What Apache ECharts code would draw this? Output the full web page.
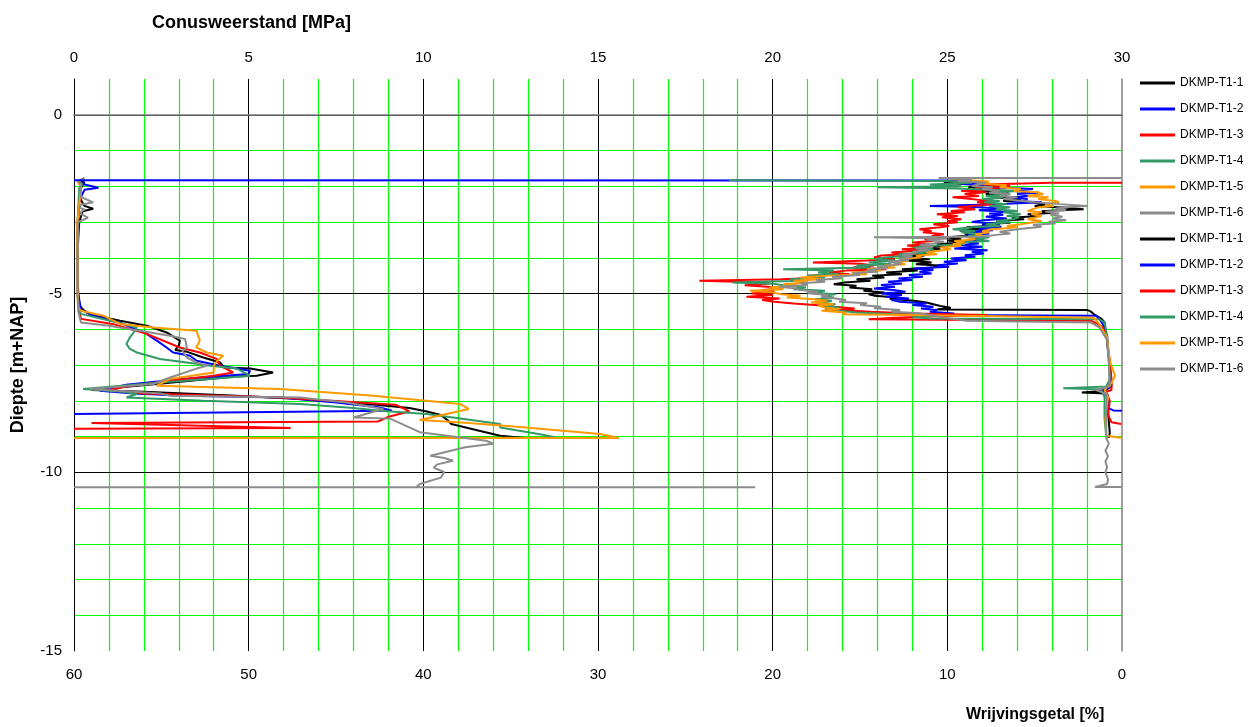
<!DOCTYPE html>
<html>
<head>
<meta charset="utf-8">
<script src="https://cdn.jsdelivr.net/npm/echarts@6/dist/echarts.min.js"></script>
<style>
html,body{margin:0;padding:0;background:#fff;}
#chart{width:1249px;height:727px;}
</style>
</head>
<body>
<div id="chart"></div>
<script>
// ---------- Data ----------
const seriesNames = ['DKMP-T1-1','DKMP-T1-2','DKMP-T1-3','DKMP-T1-4','DKMP-T1-5','DKMP-T1-6'];
const seriesColors = ['#000000','#0000FF','#FF0000','#339966','#FF9900','#8C8C8C'];

const qcTopTicks = [0,5,10,15,20,25,30];      // Conusweerstand [MPa]
const rfBottomTicks = [60,50,40,30,20,10,0];  // Wrijvingsgetal [%]
const depthTicks = [0,-5,-10,-15];            // Diepte [m+NAP]

// Cone resistance: [depth, qc MPa]
const qc1 = [[-1.82,0.15],[-1.9,0.3],[-2.05,0.2],[-2.3,0.15],[-2.55,0.3],[-2.63,0.55],[-2.7,0.25],[-3.0,0.15],[-3.5,0.12],[-4.0,0.1],[-4.5,0.1],[-5.0,0.12],[-5.3,0.15],[-5.39,0.2],[-5.48,0.3],[-5.59,0.46],[-5.76,1.32],[-5.9,2.08],[-6.09,2.65],[-6.32,3.03],[-6.46,3.0],[-6.58,2.9],[-6.62,3.2],[-6.79,3.7],[-6.93,4.18],[-7.07,4.3],[-7.1,5.04],[-7.21,5.7],[-7.3,5.23],[-7.32,4.6],[-7.53,2.37],[-7.7,0.5],[-7.75,2.0],[-7.85,4.5],[-7.95,6.5],[-8.1,8.5],[-8.2,9.6],[-8.3,10.1],[-8.4,10.5],[-8.55,10.7],[-8.65,10.8],[-8.84,11.6],[-8.98,12.2],[-9.04,12.9],[-9.04,0]];
const qc2 = [[-1.84,0.1],[-1.95,0.3],[-2.04,0.7],[-2.1,0.3],[-2.4,0.15],[-3.0,0.12],[-4.0,0.1],[-5.0,0.12],[-5.45,0.2],[-5.6,0.5],[-5.81,1.3],[-6.13,2.08],[-6.32,2.37],[-6.51,2.65],[-6.65,2.84],[-6.74,3.32],[-6.88,3.51],[-7.02,4.18],[-7.16,5.04],[-7.25,5.0],[-7.4,3.0],[-7.55,1.5],[-7.72,0.74],[-7.8,1.7],[-7.86,3.2],[-7.91,5.9],[-8.05,7.5],[-8.19,8.76],[-8.28,9.1],[-8.37,0]];
const qc3 = [[-1.86,0.1],[-2.0,0.2],[-2.5,0.15],[-3.0,0.1],[-4.0,0.1],[-5.0,0.1],[-5.5,0.15],[-5.71,0.2],[-5.85,1.1],[-6.13,2.08],[-6.51,3.03],[-6.65,3.6],[-6.83,4.08],[-7.02,4.18],[-7.21,4.56],[-7.3,4.0],[-7.44,2.75],[-7.6,1.5],[-7.7,1.0],[-7.8,2.0],[-7.91,5.9],[-8.11,9.2],[-8.3,9.6],[-8.45,9.0],[-8.58,8.7],[-8.62,0.5],[-8.76,6.2],[-8.78,0]];
const qc4 = [[-1.83,0.1],[-1.95,0.25],[-2.05,0.15],[-3.0,0.1],[-4.0,0.1],[-5.0,0.1],[-5.45,0.15],[-5.57,0.2],[-5.76,1.03],[-5.95,1.8],[-6.1,1.7],[-6.23,1.6],[-6.41,1.5],[-6.55,1.6],[-6.65,1.8],[-6.83,2.46],[-6.93,3.23],[-7.02,3.9],[-7.1,4.66],[-7.3,5.04],[-7.39,3.9],[-7.5,2.3],[-7.67,0.26],[-7.75,1.4],[-7.81,1.8],[-7.91,1.5],[-8.0,3.7],[-8.09,6.47],[-8.2,8.0],[-8.28,8.76],[-8.37,10.1],[-8.47,10.85],[-8.65,12.2],[-8.75,12.2],[-8.93,13.3],[-9.03,13.8],[-9.04,0]];
const qc5 = [[-1.78,0.3],[-1.85,0.1],[-2.0,0.2],[-2.5,0.15],[-3.0,0.1],[-4.0,0.1],[-5.0,0.1],[-5.4,0.12],[-5.48,0.2],[-5.62,0.84],[-5.85,1.32],[-5.95,2.27],[-6.04,3.51],[-6.18,3.55],[-6.32,3.6],[-6.51,3.5],[-6.65,3.8],[-6.74,4.27],[-6.88,4.1],[-7.02,4.0],[-7.21,4.0],[-7.39,2.75],[-7.58,2.37],[-7.67,5.9],[-7.86,8.57],[-8.09,11.05],[-8.23,11.3],[-8.54,9.9],[-8.6,11.0],[-8.72,12.6],[-8.93,15.06],[-9.04,15.6],[-9.04,0]];
const qc6 = [[-1.76,0.3],[-1.85,0.15],[-2.0,0.2],[-2.3,0.2],[-2.45,0.55],[-2.52,0.2],[-2.6,0.15],[-2.65,0.3],[-2.75,0.15],[-2.88,0.4],[-3.0,0.12],[-4.0,0.1],[-5.0,0.1],[-5.5,0.12],[-5.81,0.2],[-5.9,1.0],[-6.18,2.75],[-6.27,3.18],[-6.51,3.23],[-6.6,3.1],[-6.79,3.23],[-6.93,3.51],[-7.02,3.8],[-7.1,3.51],[-7.35,2.75],[-7.53,2.27],[-7.67,0.46],[-7.8,2.5],[-7.86,2.75],[-7.91,6.47],[-8.05,7.8],[-8.23,8.85],[-8.47,8.0],[-8.5,9.05],[-8.88,9.9],[-9.12,11.8],[-9.2,12.0],[-9.3,11.2],[-9.54,10.2],[-9.6,10.6],[-9.68,10.85],[-9.78,10.4],[-9.87,10.3],[-10.0,10.6],[-10.15,10.5],[-10.33,9.9],[-10.41,9.8],[-10.42,0],[-10.42,19.5]];

// Friction ratio: [depth, Rf %]
const rf1 = [[-1.86,8.5],[-1.9,10.2],[-1.94,9.0],[-1.98,7.6],[-2.03,8.8],[-2.08,7.2],[-2.13,8.4],[-2.18,6.5],[-2.22,7.8],[-2.27,6.6],[-2.31,7.4],[-2.36,5.8],[-2.41,6.8],[-2.45,5.2],[-2.5,4.4],[-2.55,5.0],[-2.6,3.2],[-2.64,2.2],[-2.67,3.6],[-2.7,4.6],[-2.74,3.9],[-2.78,5.4],[-2.83,4.8],[-2.88,6.3],[-2.92,5.6],[-2.97,7.2],[-3.02,6.4],[-3.06,8.0],[-3.1,7.0],[-3.15,8.9],[-3.19,7.8],[-3.24,9.3],[-3.29,8.1],[-3.33,9.0],[-3.38,8.4],[-3.43,10.1],[-3.48,9.2],[-3.52,10.0],[-3.57,9.1],[-3.62,10.6],[-3.66,9.6],[-3.71,11.2],[-3.76,10.4],[-3.8,11.8],[-3.85,10.9],[-3.9,12.4],[-3.94,11.3],[-3.99,12.7],[-4.04,11.0],[-4.08,12.3],[-4.13,10.9],[-4.18,11.8],[-4.22,10.5],[-4.27,10.8],[-4.32,12.6],[-4.36,11.7],[-4.41,13.5],[-4.46,12.6],[-4.5,14.3],[-4.55,13.6],[-4.6,15.2],[-4.64,14.4],[-4.69,15.9],[-4.74,16.5],[-4.78,15.2],[-4.83,15.6],[-4.88,14.3],[-4.92,14.8],[-4.97,13.6],[-5.02,14.5],[-5.06,14.2],[-5.11,12.8],[-5.15,13.3],[-5.2,11.9],[-5.25,11.2],[-5.3,11.2],[-5.35,10.4],[-5.4,9.8],[-5.45,10.6],[-5.46,2.0],[-5.5,1.8],[-5.58,1.6],[-5.7,1.2],[-5.8,1.0],[-6.0,0.95],[-6.3,0.85],[-6.6,0.8],[-7.0,0.7],[-7.3,0.65],[-7.6,0.6],[-7.72,1.0],[-7.77,2.3],[-7.8,0.9],[-8.0,0.85],[-8.3,0.8],[-8.6,0.75],[-8.9,0.7],[-9.04,0.75]];
const rf2 = [[-1.83,60],[-1.84,10.0],[-1.88,8.2],[-1.94,9.2],[-1.98,6.8],[-2.03,7.6],[-2.08,5.1],[-2.13,6.2],[-2.18,4.8],[-2.22,6.0],[-2.27,5.2],[-2.31,6.6],[-2.36,5.4],[-2.41,6.2],[-2.45,4.6],[-2.5,7.0],[-2.55,11.0],[-2.58,8.4],[-2.62,7.0],[-2.67,8.2],[-2.71,6.6],[-2.76,7.6],[-2.8,6.8],[-2.85,7.8],[-2.9,6.6],[-2.95,7.9],[-3.0,8.6],[-3.04,7.0],[-3.09,8.0],[-3.13,6.9],[-3.18,8.2],[-3.23,7.4],[-3.27,8.7],[-3.32,7.6],[-3.37,8.9],[-3.41,7.8],[-3.46,8.6],[-3.51,7.9],[-3.55,9.0],[-3.6,8.2],[-3.65,9.4],[-3.69,8.0],[-3.74,9.6],[-3.79,7.7],[-3.83,8.6],[-3.88,7.9],[-3.93,9.0],[-3.97,8.4],[-4.02,9.8],[-4.07,8.9],[-4.11,10.2],[-4.16,9.4],[-4.21,10.6],[-4.25,9.9],[-4.3,11.9],[-4.34,10.8],[-4.39,11.6],[-4.44,10.9],[-4.48,12.2],[-4.53,11.4],[-4.58,12.8],[-4.62,12.0],[-4.67,13.4],[-4.72,12.6],[-4.76,13.8],[-4.81,13.0],[-4.86,14.2],[-4.9,13.1],[-4.95,12.4],[-5.0,13.8],[-5.04,12.6],[-5.09,13.5],[-5.14,12.2],[-5.18,13.2],[-5.23,12.7],[-5.28,11.2],[-5.32,12.0],[-5.37,10.8],[-5.42,11.5],[-5.46,10.6],[-5.51,11.0],[-5.56,9.6],[-5.6,10.2],[-5.62,1.5],[-5.7,1.3],[-5.86,1.1],[-6.2,0.85],[-6.6,0.8],[-7.0,0.7],[-7.4,0.65],[-7.65,0.8],[-7.7,1.3],[-7.85,0.8],[-8.2,0.8],[-8.27,0.5],[-8.28,0.0]];
const rf3 = [[-1.9,0],[-1.9,4.1],[-1.95,7.9],[-1.99,6.4],[-2.03,8.4],[-2.08,7.0],[-2.13,9.2],[-2.17,7.8],[-2.22,9.0],[-2.27,8.2],[-2.31,9.7],[-2.36,8.6],[-2.41,7.6],[-2.45,8.3],[-2.5,7.4],[-2.55,8.6],[-2.59,9.4],[-2.64,8.4],[-2.69,9.8],[-2.73,9.0],[-2.78,10.6],[-2.83,9.4],[-2.87,10.3],[-2.92,9.2],[-2.97,10.0],[-3.01,9.4],[-3.06,10.8],[-3.11,9.9],[-3.15,10.4],[-3.2,11.6],[-3.25,10.9],[-3.29,11.4],[-3.34,10.2],[-3.39,10.9],[-3.43,10.0],[-3.48,11.3],[-3.53,10.8],[-3.57,12.0],[-3.62,11.2],[-3.66,12.3],[-3.71,11.1],[-3.76,12.6],[-3.8,11.5],[-3.85,13.2],[-3.9,12.4],[-3.94,13.8],[-3.99,14.2],[-4.04,13.0],[-4.08,14.6],[-4.13,17.7],[-4.17,15.0],[-4.22,14.2],[-4.27,15.4],[-4.32,13.5],[-4.36,15.8],[-4.41,16.8],[-4.46,15.6],[-4.5,18.0],[-4.55,17.2],[-4.6,19.5],[-4.64,24.2],[-4.68,21.5],[-4.72,20.2],[-4.77,21.6],[-4.81,20.3],[-4.86,19.4],[-4.9,20.6],[-4.95,19.9],[-5.0,21.2],[-5.04,20.0],[-5.09,21.5],[-5.14,19.6],[-5.18,20.6],[-5.23,19.9],[-5.28,18.8],[-5.32,17.6],[-5.37,16.5],[-5.42,15.3],[-5.46,16.2],[-5.51,14.4],[-5.56,12.0],[-5.6,7.7],[-5.64,11.0],[-5.68,13.0],[-5.72,14.5],[-5.76,1.8],[-5.85,1.4],[-5.95,1.1],[-6.3,0.85],[-6.9,0.7],[-7.4,0.6],[-7.7,0.6],[-7.75,0.9],[-8.0,0.7],[-8.4,0.8],[-8.6,0.6],[-8.65,0.05]];
const rf4 = [[-1.83,22.5],[-1.85,10.0],[-1.9,8.6],[-1.95,11.0],[-2.0,9.2],[-2.03,14.0],[-2.06,9.5],[-2.1,7.4],[-2.13,6.0],[-2.18,7.6],[-2.22,6.4],[-2.27,7.8],[-2.31,6.8],[-2.36,8.0],[-2.41,7.0],[-2.45,7.9],[-2.5,6.6],[-2.55,7.6],[-2.59,6.4],[-2.64,7.2],[-2.69,6.0],[-2.73,6.8],[-2.78,5.8],[-2.83,6.6],[-2.87,5.9],[-2.92,6.2],[-2.97,7.2],[-3.01,6.4],[-3.06,7.8],[-3.11,7.0],[-3.15,8.6],[-3.2,9.7],[-3.25,8.4],[-3.29,9.2],[-3.34,8.0],[-3.39,8.8],[-3.43,7.6],[-3.48,8.4],[-3.53,7.6],[-3.57,9.5],[-3.62,9.0],[-3.66,10.6],[-3.71,11.9],[-3.76,10.8],[-3.8,11.6],[-3.85,11.0],[-3.9,12.8],[-3.94,12.0],[-3.99,13.6],[-4.04,14.2],[-4.08,13.0],[-4.13,14.5],[-4.18,13.2],[-4.22,15.2],[-4.27,14.4],[-4.32,19.4],[-4.36,16.5],[-4.41,17.4],[-4.46,16.2],[-4.5,18.0],[-4.55,17.0],[-4.6,19.0],[-4.64,18.4],[-4.69,22.3],[-4.73,20.0],[-4.78,19.2],[-4.83,18.1],[-4.88,18.8],[-4.92,17.0],[-4.97,17.8],[-5.02,16.4],[-5.06,17.2],[-5.11,16.5],[-5.16,17.6],[-5.2,16.6],[-5.25,17.5],[-5.3,16.4],[-5.34,17.2],[-5.39,16.2],[-5.44,17.0],[-5.48,16.9],[-5.53,15.2],[-5.58,13.0],[-5.62,10.8],[-5.66,12.0],[-5.7,11.0],[-5.72,1.3],[-5.81,1.0],[-6.2,0.85],[-6.9,0.75],[-7.4,0.7],[-7.6,0.9],[-7.65,3.36],[-7.68,1.2],[-7.9,1.0],[-8.5,1.0],[-9.0,0.9],[-9.03,0.8]];
const rf5 = [[-1.8,9.8],[-1.83,8.8],[-1.87,7.6],[-1.92,8.2],[-1.97,6.6],[-2.03,7.0],[-2.08,5.8],[-2.13,6.2],[-2.17,4.8],[-2.22,4.5],[-2.27,5.4],[-2.31,4.2],[-2.36,4.8],[-2.41,3.8],[-2.45,3.6],[-2.5,4.4],[-2.55,3.9],[-2.59,4.8],[-2.64,4.7],[-2.69,5.4],[-2.73,4.6],[-2.78,5.2],[-2.83,4.6],[-2.87,4.9],[-2.92,5.4],[-2.97,4.6],[-3.01,4.5],[-3.06,5.8],[-3.11,6.6],[-3.15,6.0],[-3.2,7.4],[-3.25,8.0],[-3.29,7.6],[-3.34,8.4],[-3.39,8.0],[-3.43,8.9],[-3.48,8.4],[-3.53,9.6],[-3.57,9.0],[-3.62,9.7],[-3.66,9.2],[-3.71,10.4],[-3.76,9.8],[-3.8,10.4],[-3.85,11.2],[-3.9,10.6],[-3.94,11.8],[-3.99,11.5],[-4.04,12.7],[-4.08,12.2],[-4.13,13.0],[-4.18,12.4],[-4.22,13.6],[-4.27,13.0],[-4.32,14.6],[-4.36,13.8],[-4.41,15.5],[-4.46,14.6],[-4.5,16.8],[-4.55,18.4],[-4.6,17.2],[-4.64,18.8],[-4.69,18.0],[-4.74,19.4],[-4.78,18.6],[-4.83,20.2],[-4.88,19.4],[-4.92,21.3],[-4.97,20.0],[-5.02,19.5],[-5.06,18.4],[-5.11,19.2],[-5.16,17.6],[-5.2,16.9],[-5.25,17.8],[-5.3,16.5],[-5.34,17.4],[-5.39,17.0],[-5.44,16.2],[-5.48,17.2],[-5.53,15.8],[-5.58,16.0],[-5.62,8.9],[-5.68,1.6],[-5.86,1.3],[-6.23,0.85],[-6.9,0.7],[-7.3,0.4],[-7.5,0.6],[-7.7,1.0],[-7.9,0.8],[-8.5,0.95],[-8.98,0.9],[-9.04,0.0]];
const rf6 = [[-1.77,0],[-1.77,10.5],[-1.82,8.6],[-1.86,9.4],[-1.9,7.8],[-1.94,7.7],[-1.99,8.6],[-2.03,7.4],[-2.08,8.0],[-2.13,7.0],[-2.18,7.6],[-2.22,6.4],[-2.27,7.0],[-2.31,6.0],[-2.36,6.8],[-2.4,6.0],[-2.45,5.0],[-2.5,3.6],[-2.55,2.0],[-2.58,3.0],[-2.62,3.8],[-2.67,3.2],[-2.71,4.4],[-2.76,3.6],[-2.8,4.1],[-2.85,3.4],[-2.9,4.0],[-2.95,3.2],[-2.99,4.2],[-3.04,3.8],[-3.08,5.1],[-3.13,4.6],[-3.18,5.6],[-3.22,6.2],[-3.27,7.0],[-3.32,6.4],[-3.36,7.2],[-3.41,8.0],[-3.43,14.2],[-3.46,10.0],[-3.5,11.2],[-3.55,10.2],[-3.6,10.8],[-3.64,11.6],[-3.69,10.8],[-3.74,11.8],[-3.78,11.0],[-3.83,12.0],[-3.88,11.8],[-3.92,12.6],[-3.97,12.0],[-4.02,12.8],[-4.06,12.2],[-4.11,13.4],[-4.16,12.6],[-4.2,13.1],[-4.25,14.0],[-4.29,13.4],[-4.34,14.6],[-4.39,14.0],[-4.43,15.4],[-4.48,15.0],[-4.53,16.6],[-4.57,16.0],[-4.62,17.5],[-4.67,17.0],[-4.71,18.4],[-4.76,18.0],[-4.81,19.6],[-4.85,18.8],[-4.9,18.4],[-4.95,17.4],[-4.99,18.0],[-5.04,16.8],[-5.09,17.2],[-5.13,16.5],[-5.18,15.8],[-5.23,16.2],[-5.27,14.6],[-5.32,15.0],[-5.37,13.8],[-5.41,14.2],[-5.46,12.7],[-5.51,13.2],[-5.55,11.6],[-5.6,11.0],[-5.66,10.4],[-5.72,9.5],[-5.76,8.9],[-5.81,1.8],[-5.95,1.3],[-6.3,0.85],[-7.0,0.75],[-7.6,0.7],[-7.7,1.5],[-7.8,0.9],[-8.5,0.9],[-9.05,0.9],[-9.2,0.75],[-9.4,0.95],[-9.55,0.8],[-9.7,0.95],[-9.86,0.85],[-10.0,0.95],[-10.2,0.8],[-10.33,0.85],[-10.38,0.85],[-10.41,1.55],[-10.41,0]];

const qcSets = [qc1,qc2,qc3,qc4,qc5,qc6];
const rfSets = [rf1,rf2,rf3,rf4,rf5,rf6];

// ---------- Chart ----------
const FONT = 'Liberation Sans, Arial, sans-serif';
const GREEN = '#00FF00';
const NONE = 'rgba(0,0,0,0)';
// minor grid colours: every 5th minor line is hidden (a black major line sits there)
const minorColors = [GREEN, GREEN, GREEN, GREEN, NONE];

const series = [];
qcSets.forEach((d, i) => {
  series.push({
    name: seriesNames[i], type: 'line', xAxisIndex: 0, yAxisIndex: 0,
    data: d.map(p => [p[1], p[0]]), symbol: 'none', showSymbol: false,
    lineStyle: { color: seriesColors[i], width: 2 }, itemStyle: { color: seriesColors[i] },
    animation: false
  });
});
rfSets.forEach((d, i) => {
  series.push({
    name: seriesNames[i] + ' ', type: 'line', xAxisIndex: 1, yAxisIndex: 0,
    data: d.map(p => [p[1], p[0]]), symbol: 'none', showSymbol: false,
    lineStyle: { color: seriesColors[i], width: 2 }, itemStyle: { color: seriesColors[i] },
    animation: false
  });
});

const hiddenAxisBits = {
  axisLine: { show: false }, axisTick: { show: false }, axisLabel: { show: false }
};

const chart = echarts.init(document.getElementById('chart'), null, { renderer: 'canvas' });
chart.setOption({
  animation: false,
  backgroundColor: '#ffffff',
  textStyle: { fontFamily: FONT },
  grid: { left: 74, right: 127, top: 79, bottom: 76, show: false },
  legend: {
    orient: 'vertical', left: 1140, top: 77, padding: 0,
    itemWidth: 35, itemHeight: 3, itemGap: 14, icon: 'rect',
    data: seriesNames.concat(seriesNames.map(n => n + ' ')),
    formatter: n => n.trim(),
    textStyle: { fontSize: 12, color: '#000', fontFamily: FONT },
    selectedMode: false
  },
  xAxis: [
    {
      type: 'value', position: 'top', min: 0, max: 30, interval: 5, z: 1,
      axisLine: { show: true, lineStyle: { color: '#000', width: 1 } },
      axisTick: { show: false },
      axisLabel: { fontSize: 15, color: '#000', margin: 14, fontFamily: FONT,
        formatter: v => qcTopTicks.indexOf(v) >= 0 ? String(v) : '' },
      splitLine: { show: true, showMaxLine: false, lineStyle: { color: '#000', width: 1 } }
    },
    {
      type: 'value', position: 'bottom', min: 0, max: 60, interval: 10, inverse: true, z: 1,
      axisLine: { show: true, lineStyle: { color: '#808080', width: 1.5 } },
      axisTick: { show: false },
      axisLabel: { fontSize: 15, color: '#000', margin: 16, fontFamily: FONT,
        formatter: v => rfBottomTicks.indexOf(v) >= 0 ? String(v) : '' },
      splitLine: { show: false }
    },
    Object.assign({
      type: 'value', position: 'top', min: 0, max: 30, interval: 1, z: 0,
      splitLine: { show: true, showMinLine: false, showMaxLine: false, lineStyle: { color: minorColors, width: 1.2 } }
    }, hiddenAxisBits)
  ],
  yAxis: [
    {
      type: 'value', position: 'left', min: -15, max: 1, interval: 5, z: 1,
      axisLine: { show: true, lineStyle: { color: '#000', width: 1 } }, axisTick: { show: false },
      axisLabel: { fontSize: 15, color: '#000', margin: 12, fontFamily: FONT,
        formatter: v => depthTicks.indexOf(v) >= 0 ? String(v) : '' },
      splitLine: { show: true, showMinLine: false, showMaxLine: false, lineStyle: { color: '#000', width: 1 } }
    },
    {
      type: 'value', position: 'right', min: -15, max: 1, interval: 5, z: 1,
      axisLine: { show: true, lineStyle: { color: '#808080', width: 1.5 } },
      axisTick: { show: false }, axisLabel: { show: false }, splitLine: { show: false }
    },
    Object.assign({
      type: 'value', position: 'left', min: -15, max: 1, interval: 1, z: 0,
      splitLine: { show: true, showMinLine: false, showMaxLine: false, lineStyle: { color: minorColors, width: 1.2 } }
    }, hiddenAxisBits)
  ],
  title: [
    { text: 'Conusweerstand [MPa]', left: 152, top: 14, padding: 0,
      textStyle: { fontSize: 18, fontWeight: 'bold', color: '#000', fontFamily: FONT } },
    { text: 'Wrijvingsgetal [%]', left: 966, top: 707, padding: 0,
      textStyle: { fontSize: 16, fontWeight: 'bold', color: '#000', fontFamily: FONT } }
  ],
  graphic: [
    { type: 'text', x: 18, y: 365, rotation: Math.PI / 2,
      style: { text: 'Diepte [m+NAP]', font: 'bold 18px ' + FONT, fill: '#000', align: 'center', verticalAlign: 'middle' } }
  ],
  series: series
});
</script>
</body>
</html>
